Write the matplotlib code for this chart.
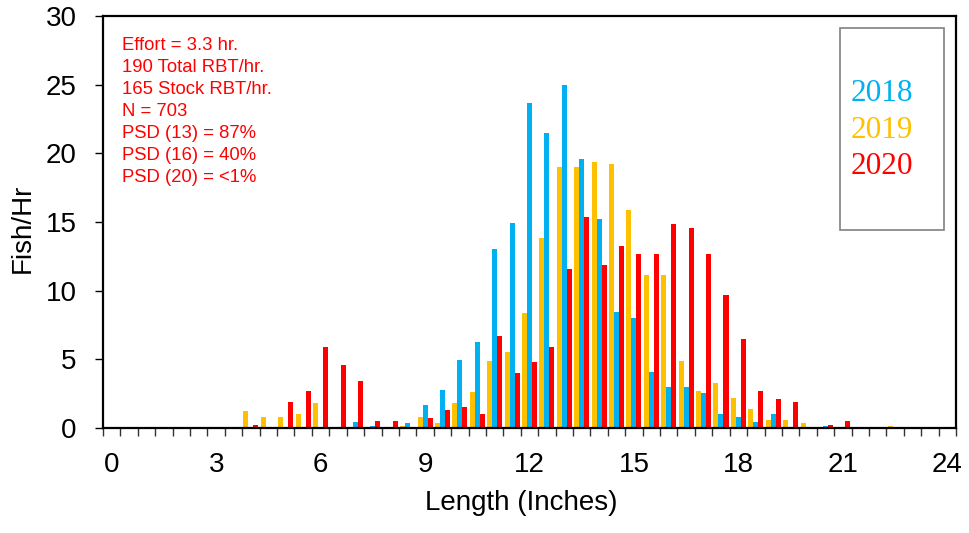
import numpy as np
import matplotlib
matplotlib.use("Agg")
import matplotlib.pyplot as plt
from matplotlib.patches import Rectangle

# length classes, 0 - 24 in. by half inch
lengths = np.arange(0, 24.5, 0.5)

fish_2018 = [0, 0, 0, 0, 0, 0, 0, 0, 0, 0,
             0, 0, 0, 0, 0.41, 0.17, 0, 0.39, 1.7, 2.79,
             4.98, 6.29, 13.0, 14.96, 23.7, 21.5, 25.0, 19.57, 15.22, 8.44,
             8.0, 4.11, 2.99, 2.99, 2.58, 1.05, 0.83, 0.41, 1.05, 0,
             0, 0.17, 0, 0, 0, 0, 0, 0, 0]
fish_2019 = [0, 0, 0, 0, 0, 0, 0, 0, 1.21, 0.78,
             0.78, 1.0, 1.8, 0, 0, 0, 0, 0.17, 0.78, 0.34,
             1.8, 2.65, 4.9, 5.5, 8.4, 13.8, 19.0, 19.0, 19.4, 19.2,
             15.9, 11.14, 11.14, 4.91, 2.67, 3.26, 2.21, 1.41, 0.57, 0.56,
             0.34, 0, 0, 0, 0, 0.17, 0, 0, 0]
fish_2020 = [0, 0, 0, 0, 0, 0, 0, 0, 0.19, 0,
             1.87, 2.67, 5.89, 4.57, 3.45, 0.49, 0.49, 0, 0.75, 1.31,
             1.55, 1.04, 6.7, 3.98, 4.8, 5.9, 11.56, 15.37, 11.84, 13.23,
             12.64, 12.64, 14.83, 14.56, 12.64, 9.7, 6.47, 2.66, 2.1, 1.87,
             0, 0.22, 0.51, 0, 0, 0, 0, 0, 0]

years = ["2018", "2019", "2020"]
colors = {"2018": "#00B0F0", "2019": "#FFC000", "2020": "#FF0000"}

stats = ["Effort = 3.3 hr.",
         "190 Total RBT/hr.",
         "165 Stock RBT/hr.",
         "N = 703",
         "PSD (13) = 87%",
         "PSD (16) = 40%",
         "PSD (20) = <1%"]

plt.rcParams['font.family'] = ['Liberation Sans', 'DejaVu Sans']

W, H = 969, 533
fig = plt.figure(figsize=(W/100, H/100), dpi=100)
ax = fig.add_axes([103/W, 1-428/H, (956-103)/W, (428-16)/H])

bw = 0.144
# drawn order in each cluster: 2019, 2018, 2020
ax.bar(lengths - bw, fish_2019, width=bw, color=colors["2019"], linewidth=0)
ax.bar(lengths, fish_2018, width=bw, color=colors["2018"], linewidth=0)
ax.bar(lengths + bw, fish_2020, width=bw, color=colors["2020"], linewidth=0)

ax.set_xlim(-0.25, 24.25)
ax.set_ylim(0, 30)
ax.set_xticks(np.arange(0, 25, 3))
ax.set_xticks(np.arange(-0.25, 24.5, 0.5), minor=True)
ax.set_yticks(np.arange(0, 31, 5))
ax.tick_params(axis="x", which="major", length=0, labelsize=20, pad=17)
ax.tick_params(axis="x", which="minor", length=6, width=1, direction="out", color="#333333")
ax.tick_params(axis="y", which="major", length=6, width=1, direction="out", labelsize=20, pad=13)
for s in ax.spines.values():
    s.set_linewidth(1.6)

ax.set_xlabel("Length (Inches)", fontsize=20)
ax.xaxis.set_label_coords((521-103)/853, (428-503)/412)
ax.xaxis.label.set_va("center")
ax.set_ylabel("Fish/Hr", fontsize=20)
ax.yaxis.set_label_coords((23-103)/853, (428-228)/412)
ax.yaxis.label.set_va("center")

# stats block
for k, line in enumerate(stats):
    fig.text(121.5/W, 1-(50+22*k)/H, line, color="#FF0000", fontsize=13.3, va="baseline", ha="left")

# year "legend" box
fig.patches.append(Rectangle((840/W, 1-230/H), (944-840)/W, (230-28)/H, transform=fig.transFigure,
                             fill=False, edgecolor="#808080", linewidth=1.2))
for k, yr in enumerate(years):
    fig.text(882/W, 1-(93.5+36.6*k)/H, yr, color=colors[yr], fontsize=22.5,
             family=["Liberation Serif", "DejaVu Serif"], ha="center", va="center")

fig.savefig("out.png", dpi=100)
